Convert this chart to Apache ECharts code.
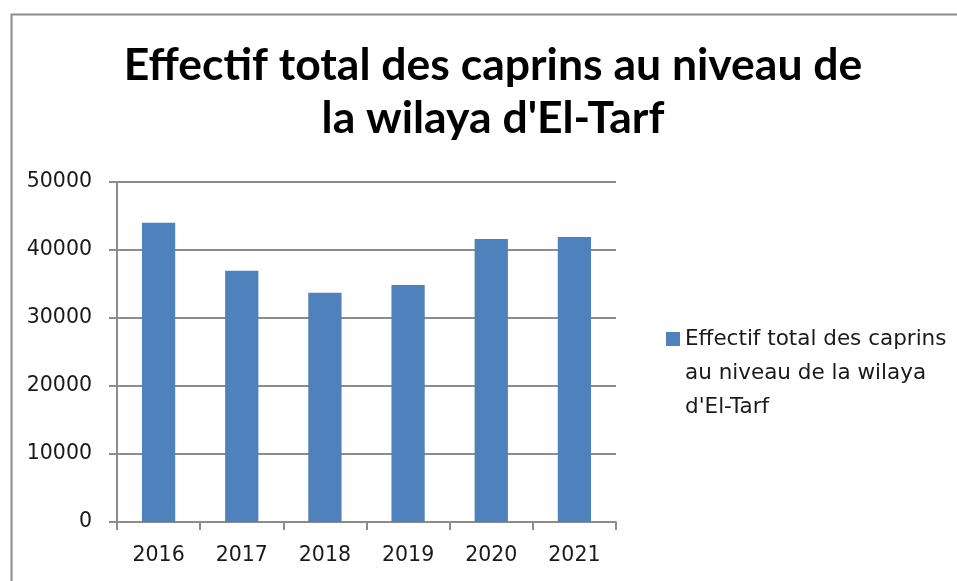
<!DOCTYPE html>
<html>
<head>
<meta charset="utf-8">
<script src="https://cdn.jsdelivr.net/npm/echarts@6/dist/echarts.min.js"></script>
<style>html,body{margin:0;padding:0;background:#fff;}#c{width:957px;height:581px;}</style>
</head>
<body>
<div id="c"></div>
<script>
const categories = ['2016', '2017', '2018', '2019', '2020', '2021'];
const values = [44000, 36950, 33700, 34850, 41600, 41900];
const seriesName = "Effectif total des caprins au niveau de la wilaya d'El-Tarf";
const legendLines = ["Effectif total des caprins", "au niveau de la wilaya", "d'El-Tarf"];
const titleText = "Effectif total des caprins au niveau de\nla wilaya d'El-Tarf";

const chart = echarts.init(document.getElementById('c'), null, {renderer: 'canvas'});
const axisGray = '#8c8c8c';
chart.setOption({
  animation: false,
  backgroundColor: '#ffffff',
  title: {
    text: titleText,
    left: 488, top: 34, textAlign: 'center',
    textStyle: {fontFamily: 'Lato', fontWeight: 'bold', fontSize: 44.5, lineHeight: 53, color: '#000'}
  },
  graphic: [{
    type: 'rect', left: 9, top: 12, z: -1,
    shape: {width: 980, height: 620},
    style: {fill: 'none', stroke: axisGray, lineWidth: 2}
  }],
  legend: {
    left: 661, top: 249,
    itemWidth: 14, itemHeight: 14,
    icon: 'rect',
    formatter: () => '\n\n' + legendLines.join('\n'),
    textStyle: {fontFamily: 'DejaVu Sans', fontSize: 21.5, lineHeight: 34, color: '#1a1a1a'}
  },
  grid: {left: 117, right: 341, top: 182, bottom: 59},
  xAxis: {
    type: 'category', data: categories,
    axisLine: {lineStyle: {color: axisGray, width: 2}},
    axisTick: {show: true, length: 8, lineStyle: {color: axisGray, width: 2}},
    axisLabel: {fontFamily: 'DejaVu Sans', fontSize: 20.5, color: '#1a1a1a', margin: 23}
  },
  yAxis: {
    type: 'value', min: 0, max: 50000, interval: 10000,
    axisLine: {show: true, lineStyle: {color: axisGray, width: 2}},
    axisTick: {show: true, length: 8, lineStyle: {color: axisGray, width: 2}},
    splitLine: {lineStyle: {color: axisGray, width: 2}},
    axisLabel: {fontFamily: 'DejaVu Sans', fontSize: 20.5, color: '#1a1a1a', margin: 25, formatter: v => String(v)}
  },
  series: [{
    name: seriesName, type: 'bar', data: values,
    barCategoryGap: '60%',
    itemStyle: {color: '#4F81BD'}
  }]
});
</script>
</body>
</html>
